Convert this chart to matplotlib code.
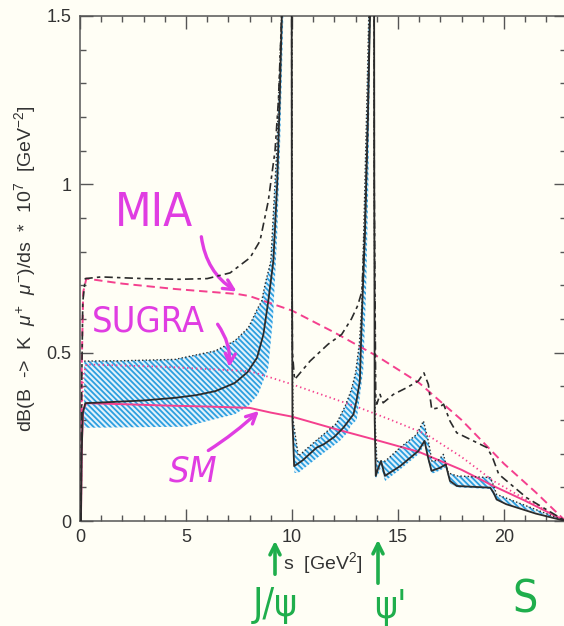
import matplotlib
matplotlib.use("Agg")
import matplotlib.pyplot as plt
from matplotlib import font_manager
from matplotlib.ticker import MultipleLocator, FixedLocator, FixedFormatter

# ---------------------------------------------------------------------------
# dB(B -> K mu+ mu-)/ds  [1e-7 GeV^-2]  versus dilepton invariant mass s
# ---------------------------------------------------------------------------
S_MAX = 22.9  # (m_B - m_K)^2

# SM, short-distance only (pink solid)
sm_s = [0.045, 0.08, 0.15, 0.3, 2.0, 4.0, 6.0, 8.0, 9.0, 10.0, 12.0, 14.0,
        16.0, 18.0, 19.5, 21.0, 22.9]
sm_v = [0.0, 0.22, 0.33, 0.35, 0.347, 0.343, 0.34, 0.336, 0.322, 0.31, 0.274,
        0.24, 0.205, 0.152, 0.104, 0.06, 0.0]

# SUGRA, short-distance only (pink dotted)
sugra_s = [0.045, 0.08, 0.15, 0.3, 4.0, 8.0, 9.0, 10.0, 13.2, 14.6, 16.35,
           18.0, 19.5, 21.0, 22.9]
sugra_v = [0.0, 0.3, 0.43, 0.465, 0.458, 0.445, 0.426, 0.406, 0.336, 0.302,
           0.257, 0.19, 0.119, 0.065, 0.0]

# MIA, short-distance only (pink dashed)
mia_s = [0.045, 0.08, 0.15, 0.3, 2.0, 4.5, 7.45, 8.0, 10.0, 12.0, 14.0, 16.0,
         18.0, 20.0, 21.5, 22.9]
mia_v = [0.0, 0.45, 0.68, 0.72, 0.705, 0.689, 0.674, 0.668, 0.625, 0.56,
         0.49, 0.41, 0.30, 0.17, 0.085, 0.0]

# SM including charmonium resonances (black solid)
smr_s = [0.045, 0.08, 0.13, 0.25, 1.0, 3.0, 4.5, 5.5, 6.4, 7.3, 7.9, 8.35,
         8.65, 8.88, 9.12, 9.3, 9.42, 9.52, 9.6, 9.97, 9.99, 10.02, 10.1,
         10.5, 11.16, 11.5, 12.0, 12.42, 12.9, 13.05, 13.2, 13.3, 13.44,
         13.58, 13.68, 13.72, 13.86, 13.88, 13.9, 13.95, 14.07, 14.2, 14.38,
         15.1, 15.96, 16.25, 16.42, 16.58, 16.98, 17.25, 17.45, 17.77, 19.35,
         19.5, 19.65, 20.1, 21.5, 22.9]
smr_v = [0.0, 0.2, 0.32, 0.35, 0.352, 0.358, 0.366, 0.374, 0.386, 0.41, 0.442,
         0.485, 0.554, 0.653, 0.772, 1.0, 1.25, 1.5, 3.0, 3.0, 1.0, 0.3, 0.163,
         0.18, 0.218, 0.228, 0.25, 0.277, 0.317, 0.36, 0.416, 0.62, 0.85,
         1.2, 1.5, 3.0, 3.0, 1.0, 0.3, 0.134, 0.158, 0.178, 0.134,
         0.163, 0.208, 0.238, 0.188, 0.149, 0.158, 0.168, 0.119, 0.104, 0.099,
         0.085, 0.064, 0.05, 0.022, 0.0]

# MIA including charmonium resonances (black dash-dot)
miar_s = [0.045, 0.08, 0.13, 0.25, 1.0, 3.0, 4.7, 6.0, 7.08, 8.02, 8.49, 8.88,
          9.2, 9.36, 9.51, 9.6, 9.97, 9.99, 10.02, 10.12, 10.85, 11.7, 12.34,
          12.8, 13.1, 13.3, 13.45, 13.58, 13.66, 13.7, 13.86, 13.88, 13.95,
          14.0, 14.15, 14.3, 14.78, 15.41, 15.96, 16.22, 16.43, 16.59, 16.9,
          17.15, 17.45, 17.77, 18.55, 19.2, 19.45, 19.75, 21.07, 22.9]
miar_v = [0.0, 0.4, 0.65, 0.72, 0.725, 0.72, 0.718, 0.72, 0.737, 0.782, 0.832,
          0.95, 1.10, 1.25, 1.5, 3.0, 3.0, 1.0, 0.5, 0.42, 0.475, 0.525,
          0.554, 0.6, 0.64, 0.683, 0.9, 1.2, 1.5, 3.0, 3.0, 1.0, 0.36,
          0.347, 0.376, 0.351, 0.376, 0.396, 0.416, 0.44, 0.406, 0.332, 0.336,
          0.347, 0.297, 0.262, 0.238, 0.218, 0.19, 0.139, 0.069, 0.0]

# SUGRA scan including resonances: upper edge (black dotted) and lower edge
band_hi_s = [0.2, 2.0, 4.48, 6.37, 7.3, 7.94, 8.4, 8.57, 8.73, 9.0, 9.28,
             9.51, 9.55, 9.98, 10.0, 10.05, 10.3, 11.16, 12.1, 12.5, 12.8,
             13.0, 13.18, 13.29, 13.4, 13.55, 13.62, 13.66, 13.86, 13.88,
             13.92, 14.0, 14.4, 15.1, 15.88, 16.2, 16.43, 16.6, 16.9, 17.14,
             17.37, 17.77, 19.34, 19.45, 19.65, 22.9]
band_hi_v = [0.475, 0.476, 0.48, 0.505, 0.535, 0.574, 0.634, 0.653, 0.703,
             0.772, 1.10, 1.5, 3.0, 3.0, 0.6, 0.3, 0.193, 0.24, 0.29, 0.34,
             0.39, 0.44, 0.53, 0.64, 0.9, 1.3, 1.5, 3.0, 3.0, 1.0,
             0.3, 0.178, 0.178, 0.218, 0.257, 0.297, 0.238, 0.178, 0.18, 0.198,
             0.143, 0.134, 0.129, 0.115, 0.079, 0.0]
band_lo_s = [0.2, 5.0, 6.0, 7.3, 7.94, 8.4, 8.88, 9.1, 9.3, 9.43, 9.59, 9.62,
             9.98, 10.0, 10.05, 10.12, 10.3, 11.3, 12.26, 12.58, 12.8, 13.05,
             13.2, 13.36, 13.5, 13.6, 13.7, 13.72, 13.86, 13.88, 13.9, 13.92,
             14.07, 14.2, 14.39, 15.1, 16.0, 16.25, 16.42, 16.58, 16.98, 17.25,
             17.45, 17.77, 19.35, 19.65, 22.9]
band_lo_v = [0.277, 0.28, 0.297, 0.317, 0.342, 0.376, 0.455, 0.6, 0.85, 1.10,
             1.5, 3.0, 3.0, 0.6, 0.2, 0.143, 0.143, 0.193, 0.238, 0.26, 0.285,
             0.3, 0.37, 0.45, 0.7, 1.0, 1.5, 3.0, 3.0, 1.0, 0.5, 0.124,
             0.14, 0.16, 0.119, 0.153, 0.2, 0.228, 0.18, 0.14, 0.15, 0.16,
             0.112, 0.1, 0.095, 0.06, 0.0]

x_ticks = [0, 5, 10, 15, 20]
y_ticks = [0, 0.5, 1.0, 1.5]
y_tick_labels = ["0", "0.5", "1", "1.5"]

# colours
PINK = "#f4408e"
INK = "#2b2b2b"
BAND = "#2c9fdf"
BAND_FACE = "#e2f2fb"
MAGENTA = "#e03de2"
GREEN = "#1fae4c"
PAPER = "#fffef5"

available = {f.name for f in font_manager.fontManager.ttflist}
base_font = "Liberation Sans" if "Liberation Sans" in available else "DejaVu Sans"

plt.rcParams["font.family"] = [base_font, "DejaVu Sans"]
plt.rcParams["mathtext.fontset"] = "custom"
plt.rcParams["mathtext.rm"] = base_font
plt.rcParams["mathtext.it"] = base_font + ":italic"
plt.rcParams["lines.scale_dashes"] = False
plt.rcParams["hatch.linewidth"] = 1.3

W, H = 564, 626
fig = plt.figure(figsize=(W / 100, H / 100), dpi=100, facecolor=PAPER)
ax = fig.add_axes([80 / W, (H - 521) / H, 485.5 / W, 505 / H])
ax.set_facecolor(PAPER)


def fig_xy(x, y):
    """Top-left pixel position -> figure fraction."""
    return (x / W, 1 - y / H)


# SUGRA band
poly_s = band_hi_s + band_lo_s[::-1]
poly_v = band_hi_v + band_lo_v[::-1]
ax.fill(poly_s, poly_v, facecolor=BAND_FACE, edgecolor=BAND,
        hatch="\\" * 6, linewidth=0, zorder=1)
ax.plot(band_hi_s, band_hi_v, color=INK, lw=1.0, ls=(0, (1, 1.6)), zorder=3)

# short-distance curves
ax.plot(mia_s, mia_v, color=PINK, lw=1.4, ls=(0, (6, 3.5)), zorder=2)
ax.plot(sugra_s, sugra_v, color=PINK, lw=1.3, ls=(0, (1, 2.2)), zorder=2)
ax.plot(sm_s, sm_v, color=PINK, lw=1.4, zorder=2)

# with resonances
ax.plot(miar_s, miar_v, color=INK, lw=1.2, ls=(0, (6, 3, 2.5, 3)), zorder=4)
ax.plot(smr_s, smr_v, color=INK, lw=1.3, zorder=4)

ax.set_xlim(0, S_MAX)
ax.set_ylim(0, 1.5)
ax.xaxis.set_major_locator(FixedLocator(x_ticks))
ax.xaxis.set_minor_locator(MultipleLocator(1))
ax.yaxis.set_major_locator(FixedLocator(y_ticks))
ax.yaxis.set_major_formatter(FixedFormatter(y_tick_labels))
ax.yaxis.set_minor_locator(MultipleLocator(0.1))
ax.tick_params(which="both", direction="in", top=True, right=True,
               color="#555555", width=1.0, labelsize=13, labelcolor="#333333")
ax.tick_params(which="major", length=9, pad=6)
ax.tick_params(which="minor", length=4.5)
for sp in ax.spines.values():
    sp.set_color("#555555")
    sp.set_linewidth(1.1)

ax.set_xlabel(r"s  [GeV$^{2}$]", fontsize=14, color="#333333", labelpad=3)
ax.set_ylabel(r"dB(B  ->  K  $\mu^{+}$  $\mu^{-}$)/ds  *  10$^{7}$  [GeV$^{-2}$]",
              fontsize=14, color="#333333", labelpad=6)

# hand-written model labels
hand = dict(family=["DejaVu Sans"], fontstretch="condensed",
            fontweight="light")
fig.text(*fig_xy(154, 214), "MIA", color=MAGENTA, fontsize=34,
         ha="center", va="center", **hand)
fig.text(*fig_xy(148, 322), "SUGRA", color=MAGENTA, fontsize=26,
         ha="center", va="center", **hand)
fig.text(*fig_xy(193, 471), "SM", color=MAGENTA, fontsize=26,
         style="italic", ha="center", va="center", **hand)

arrow_m = dict(arrowstyle="->", color=MAGENTA, lw=2.4, mutation_scale=18)
ax.annotate("", xy=fig_xy(239, 293), xytext=fig_xy(201, 234),
            xycoords="figure fraction", textcoords="figure fraction",
            annotation_clip=False,
            arrowprops=dict(arrow_m, connectionstyle="arc3,rad=0.25"))
ax.annotate("", xy=fig_xy(229, 370), xytext=fig_xy(216, 322),
            xycoords="figure fraction", textcoords="figure fraction",
            annotation_clip=False,
            arrowprops=dict(arrow_m, connectionstyle="arc3,rad=-0.2"))
ax.annotate("", xy=fig_xy(261, 409), xytext=fig_xy(206, 452),
            xycoords="figure fraction", textcoords="figure fraction",
            annotation_clip=False,
            arrowprops=dict(arrow_m, connectionstyle="arc3,rad=0.05"))

# resonance markers below the axis
arrow_g = dict(arrowstyle="->", color=GREEN, lw=2.6, mutation_scale=18)
ax.annotate("", xy=fig_xy(275, 538), xytext=fig_xy(275, 577),
            xycoords="figure fraction", textcoords="figure fraction",
            annotation_clip=False, arrowprops=arrow_g)
ax.annotate("", xy=fig_xy(378, 537), xytext=fig_xy(378, 586),
            xycoords="figure fraction", textcoords="figure fraction",
            annotation_clip=False, arrowprops=arrow_g)
fig.text(*fig_xy(275, 605), "J/ψ", color=GREEN, fontsize=28,
         ha="center", va="center", **hand)
fig.text(*fig_xy(390, 607), "ψ'", color=GREEN, fontsize=28,
         ha="center", va="center", **hand)
fig.text(*fig_xy(525, 600), "S", color=GREEN, fontsize=32,
         ha="center", va="center", **hand)

fig.savefig("out.png", dpi=100, facecolor=PAPER)
